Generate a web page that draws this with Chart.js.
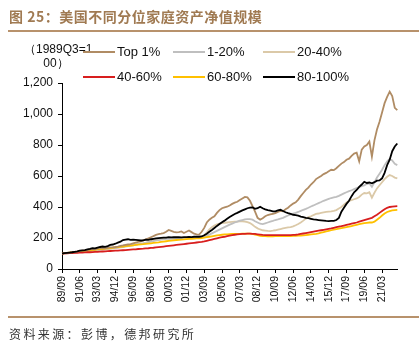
<!DOCTYPE html>
<html><head><meta charset="utf-8">
<script src="https://cdn.jsdelivr.net/npm/chart.js@4.4.1/dist/chart.umd.min.js"></script>
<style>
html,body{margin:0;padding:0;background:#fff;}
#wrap{position:relative;width:419px;height:347px;overflow:hidden;font-family:"Liberation Sans",Arial,sans-serif;}
#c{position:absolute;left:0;top:0;}
.t{position:absolute;white-space:nowrap;}
#title{left:9px;top:6px;font:bold 14px "Noto Sans CJK SC",sans-serif;color:#a07a52;line-height:20px;letter-spacing:0.5px;}
.rule{position:absolute;left:8px;right:0;height:2px;background:#b8926c;}
#unit{left:24px;top:42px;width:64px;text-align:center;font-size:12px;line-height:14px;color:#111;}
.lg{position:absolute;height:2px;width:32px;}
.lt{position:absolute;font-size:13px;line-height:16px;color:#111;white-space:nowrap;}
#src{left:9px;top:326px;font:12px "Noto Sans CJK SC",sans-serif;color:#333;letter-spacing:2.4px;line-height:16px;}
</style></head>
<body><div id="wrap">
<canvas id="c" width="419" height="347"></canvas>
<div class="t" id="title">图 25：美国不同分位家庭资产净值规模</div>
<div class="rule" style="top:30px"></div>
<div class="t" id="unit">（1989Q3=1<br>00）</div>
<div id="legend"></div>
<div class="rule" style="top:316px"></div>
<div class="t" id="src">资料来源：彭博，德邦研究所</div>
</div>
<script>
const quarters = [
"89/09","89/12",
"90/03","90/06","90/09","90/12","91/03","91/06","91/09","91/12",
"92/03","92/06","92/09","92/12","93/03","93/06","93/09","93/12",
"94/03","94/06","94/09","94/12","95/03","95/06","95/09","95/12",
"96/03","96/06","96/09","96/12","97/03","97/06","97/09","97/12",
"98/03","98/06","98/09","98/12","99/03","99/06","99/09","99/12",
"00/03","00/06","00/09","00/12","01/03","01/06","01/09","01/12",
"02/03","02/06","02/09","02/12","03/03","03/06","03/09","03/12",
"04/03","04/06","04/09","04/12","05/03","05/06","05/09","05/12",
"06/03","06/06","06/09","06/12","07/03","07/06","07/09","07/12",
"08/03","08/06","08/09","08/12","09/03","09/06","09/09","09/12",
"10/03","10/06","10/09","10/12","11/03","11/06","11/09","11/12",
"12/03","12/06","12/09","12/12","13/03","13/06","13/09","13/12",
"14/03","14/06","14/09","14/12","15/03","15/06","15/09","15/12",
"16/03","16/06","16/09","16/12","17/03","17/06","17/09","17/12",
"18/03","18/06","18/09","18/12","19/03","19/06","19/09","19/12",
"20/03","20/06","20/09","20/12","21/03","21/06","21/09","21/12",
"22/03","22/06","22/09"];
const tickLabels = ["89/09","91/06","93/03","94/12","96/09","98/06","00/03","01/12","03/09","05/06","07/03","08/12","10/09","12/06","14/03","15/12","17/09","19/06","21/03"];
const yTicks = [0,200,400,600,800,1000,1200];
const seriesNames = ["Top 1%","1-20%","20-40%","40-60%","60-80%","80-100%"];

const top1 = [
100,103,104,106,108,110,112,115,118,119,
122,126,128,127,131,134,135,133,137,139,
140,142,145,149,152,156,158,160,165,170,
175,178,185,192,198,205,212,220,225,228,
232,240,252,246,240,236,238,242,232,240,
248,238,228,224,222,240,265,300,318,330,
340,362,380,392,398,402,410,420,428,434,
445,455,465,462,440,405,370,330,318,328,
340,348,352,356,360,368,375,372,385,395,
410,422,430,448,470,490,510,525,545,560,
580,590,600,612,620,630,640,638,650,665,
680,690,705,712,730,745,750,695,770,790,
800,822,725,830,900,950,1010,1070,1110,1144,
1115,1040,1025];
const p1_20 = [
100,101,103,104,105,107,109,110,112,114,
116,118,120,122,124,126,128,130,131,133,
135,137,140,142,145,147,150,152,155,158,
160,162,165,168,172,176,180,184,187,190,
192,194,195,194,195,196,195,194,195,196,
197,197,198,200,202,205,208,215,222,230,
238,246,254,262,270,278,286,293,300,306,
312,316,320,322,322,318,308,300,292,290,
295,300,305,310,316,320,325,330,338,345,
352,358,362,368,375,382,388,395,403,410,
418,425,432,440,446,452,458,462,466,472,
480,488,495,502,508,515,522,528,535,540,
548,552,530,560,590,615,640,670,695,710,
700,678,670];
const p20_40 = [
100,101,102,103,104,106,107,109,110,112,
114,115,117,119,121,123,125,127,128,130,
132,134,137,140,142,145,147,150,152,156,
160,163,166,170,175,180,184,188,191,193,
195,197,198,197,198,199,198,197,198,199,
200,200,201,203,206,210,218,235,255,270,
280,288,292,296,298,300,302,304,305,306,
307,308,306,302,296,285,272,262,255,250,
248,246,245,247,250,254,258,262,265,268,
270,275,282,290,300,312,325,335,340,348,
355,358,362,365,368,370,372,375,380,390,
400,415,430,440,445,450,455,465,480,490,
488,495,460,492,520,540,560,580,595,606,
600,590,585];
const p40_60 = [
100,101,101,102,103,104,104,105,106,107,
108,108,109,110,111,112,113,114,115,116,
117,118,119,120,121,122,124,125,126,127,
129,130,131,133,134,136,137,139,141,143,
145,147,149,151,153,155,157,159,161,163,
165,167,169,171,173,175,178,182,186,190,
194,198,202,205,208,212,215,218,221,223,
225,226,227,228,228,227,226,224,222,220,
219,218,218,218,218,218,218,218,218,219,
219,220,221,223,226,229,232,235,238,241,
244,247,250,253,256,259,262,266,270,273,
276,280,284,288,292,296,300,305,310,315,
320,325,330,340,350,362,374,385,395,400,
403,404,405];
const p60_80 = [
100,102,104,106,108,109,111,113,114,116,
118,120,122,124,126,128,129,131,133,135,
137,139,141,143,145,147,149,151,153,155,
157,159,160,162,164,166,168,170,172,175,
177,179,181,183,185,187,188,190,191,193,
194,195,196,197,198,200,202,205,208,211,
214,217,219,221,223,224,225,226,226,227,
227,228,228,228,228,226,222,218,214,212,
212,211,211,211,212,212,212,212,212,213,
213,214,214,215,216,217,219,221,223,225,
227,230,234,238,242,246,250,254,258,261,
264,267,270,273,277,281,285,289,293,296,
298,300,300,305,318,330,345,358,368,374,
378,380,381];
const p80_100 = [
100,102,104,106,108,111,114,118,120,122,
126,130,135,133,138,142,145,143,148,155,
158,163,170,176,187,190,192,188,189,188,
186,184,185,190,188,192,195,197,199,201,
202,203,205,204,206,205,205,204,205,206,
207,206,208,209,208,210,218,228,240,252,
265,278,290,302,312,324,335,345,355,362,
370,378,385,392,396,398,388,392,402,392,
385,380,376,372,372,378,382,374,366,360,
355,350,348,344,338,334,330,328,324,320,
318,316,314,312,310,309,310,311,316,330,
370,395,420,440,470,495,510,530,545,563,
555,558,553,560,570,572,585,620,670,705,
760,790,810];

const colors = ["#b08c64","#bfbfbf","#dbc9a8","#d81e1e","#ffc000","#000000"];
const values = [top1,p1_20,p20_40,p40_60,p60_80,p80_100];
const orders = [1,4,5,2,3,0];

// HTML legend
const lgPos = [[83,52],[173,52],[263,52],[83,77],[173,77],[263,77]];
const lg = document.getElementById('legend');
seriesNames.forEach((n,k)=>{
  const [x,y] = lgPos[k];
  const s = document.createElement('div'); s.className='lg';
  s.style.left=x+'px'; s.style.top=(y-1)+'px'; s.style.background=colors[k];
  lg.appendChild(s);
  const t = document.createElement('div'); t.className='lt'; t.textContent=n;
  t.style.left=(x+34)+'px'; t.style.top=(y-8)+'px';
  lg.appendChild(t);
});

const tickCol = ctx => (tickLabels.includes(quarters[ctx.index]) ? '#000' : 'rgba(0,0,0,0)');

new Chart(document.getElementById('c'), {
  type:'line',
  data:{
    labels: quarters,
    datasets: seriesNames.map((n,k)=>({
      label:n, data:values[k], borderColor:colors[k], backgroundColor:colors[k],
      borderWidth:1.8, pointRadius:0, tension:0, order:orders[k], fill:false
    }))
  },
  options:{
    responsive:false, animation:false, devicePixelRatio:1,
    layout:{padding:{top:83,right:21.7,left:0,bottom:0}},
    plugins:{legend:{display:false},tooltip:{enabled:false},title:{display:false}},
    scales:{
      x:{
        type:'category', offset:false,
        afterFit: s => { s.height = 78; },
        border:{display:true,color:'#000',width:1},
        grid:{display:true,drawOnChartArea:false,drawTicks:true,tickLength:4,color:tickCol,tickColor:tickCol},
        ticks:{autoSkip:false,maxRotation:90,minRotation:90,padding:3,color:'#111',
          font:{family:'"Liberation Sans", Arial, sans-serif',size:10.5},
          callback:(v,i)=> tickLabels.includes(quarters[i]) ? quarters[i] : ''}
      },
      y:{
        min:0,max:1200,
        afterFit: s => { s.width = 62; },
        afterBuildTicks: s => { s.ticks = yTicks.map(v=>({value:v})); },
        border:{display:true,color:'#000',width:1},
        grid:{display:true,drawOnChartArea:false,drawTicks:true,tickLength:4,color:'#000'},
        ticks:{padding:5,color:'#111',
          font:{family:'"Liberation Sans", Arial, sans-serif',size:12},
          callback:v=>v.toLocaleString('en-US')}
      }
    }
  }
});
</script>
</body></html>
